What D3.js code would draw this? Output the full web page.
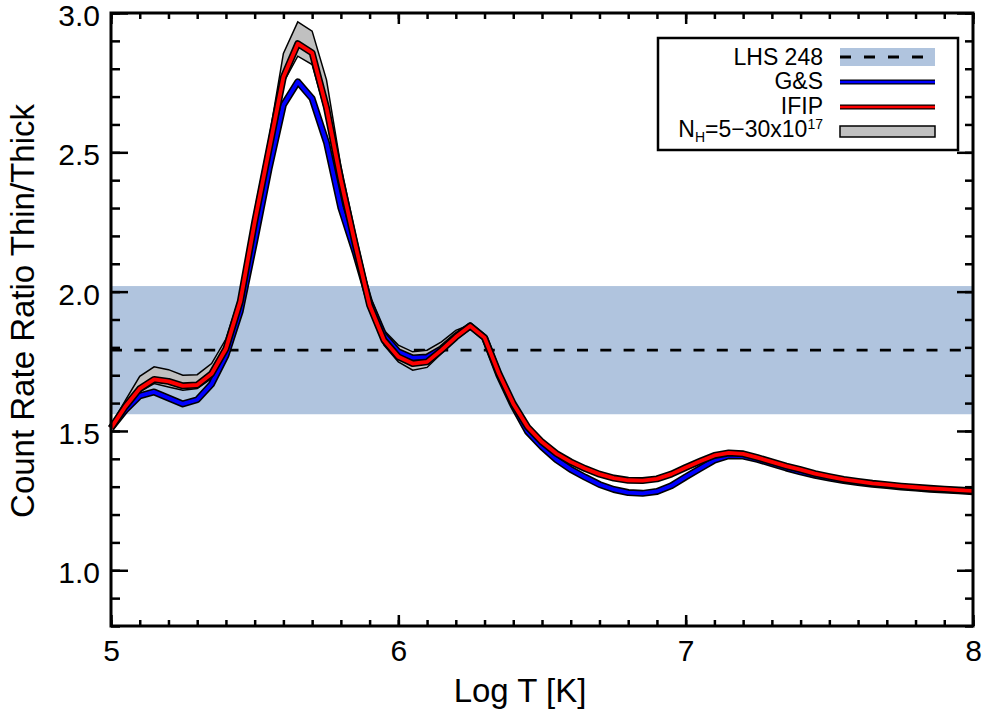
<!DOCTYPE html>
<html>
<head>
<meta charset="utf-8">
<script src="https://cdnjs.cloudflare.com/ajax/libs/d3/7.8.5/d3.min.js"></script>
<style>
body { margin: 0; background: #fff; }
text { font-family: "Liberation Sans", Arial, sans-serif; fill: #000; }
</style>
</head>
<body>
<div id="chart"></div>
<script>
// log T grid (0.05 dex)
var logT = [5.00, 5.05, 5.10, 5.15, 5.20, 5.25, 5.30, 5.35, 5.40, 5.45,
	5.50, 5.55, 5.60, 5.65, 5.70, 5.75, 5.80, 5.85, 5.90, 5.95,
	6.00, 6.05, 6.10, 6.15, 6.20, 6.25, 6.30, 6.35, 6.40, 6.45,
	6.50, 6.55, 6.60, 6.65, 6.70, 6.75, 6.80, 6.85, 6.90, 6.95,
	7.00, 7.05, 7.10, 7.15, 7.20, 7.25, 7.30, 7.35, 7.40, 7.45,
	7.50, 7.55, 7.60, 7.65, 7.70, 7.75, 7.80, 7.85, 7.90, 7.95, 8.00];

// G&S abundances
var gsRatio = [1.510, 1.575, 1.626, 1.640, 1.618, 1.597, 1.612, 1.668, 1.770, 1.930,
	2.180, 2.440, 2.670, 2.753, 2.693, 2.535, 2.300, 2.140, 1.963, 1.843,
	1.784, 1.762, 1.765, 1.795, 1.840, 1.877, 1.835, 1.700, 1.590, 1.497,
	1.443, 1.397, 1.362, 1.334, 1.308, 1.290, 1.279, 1.276, 1.283, 1.303,
	1.335, 1.365, 1.395, 1.411, 1.410, 1.398, 1.383, 1.367, 1.353, 1.341,
	1.331, 1.322, 1.315, 1.309, 1.304, 1.299, 1.295, 1.291, 1.288, 1.285, 1.282];

// IFIP abundances
var ifipRatio = [1.510, 1.588, 1.652, 1.685, 1.678, 1.662, 1.665, 1.705, 1.795, 1.965,
	2.250, 2.510, 2.770, 2.890, 2.857, 2.660, 2.400, 2.170, 1.951, 1.826,
	1.766, 1.742, 1.748, 1.790, 1.837, 1.877, 1.835, 1.706, 1.598, 1.514,
	1.460, 1.419, 1.389, 1.365, 1.345, 1.331, 1.323, 1.322, 1.328, 1.345,
	1.369, 1.391, 1.412, 1.421, 1.418, 1.404, 1.389, 1.374, 1.361, 1.347,
	1.336, 1.326, 1.319, 1.312, 1.307, 1.302, 1.298, 1.294, 1.291, 1.288, 1.285];

// N_H = 5-30 x 10^17 range
var nhLow = [1.505, 1.580, 1.640, 1.670, 1.658, 1.646, 1.652, 1.688, 1.790, 1.955,
	2.240, 2.500, 2.750, 2.845, 2.815, 2.630, 2.380, 2.150, 1.933, 1.808,
	1.748, 1.718, 1.728, 1.778, 1.830, 1.874, 1.832, 1.703, 1.595, 1.511,
	1.457, 1.416, 1.386, 1.362, 1.342, 1.328, 1.320, 1.319, 1.325, 1.342,
	1.366, 1.388, 1.409, 1.418, 1.415, 1.401, 1.386, 1.371, 1.358, 1.344,
	1.333, 1.323, 1.316, 1.309, 1.304, 1.299, 1.295, 1.291, 1.288, 1.285, 1.282];
var nhHigh = [1.520, 1.610, 1.696, 1.730, 1.720, 1.700, 1.702, 1.742, 1.830, 1.990,
	2.290, 2.550, 2.855, 2.968, 2.935, 2.760, 2.450, 2.210, 1.987, 1.861,
	1.808, 1.784, 1.790, 1.820, 1.861, 1.882, 1.838, 1.709, 1.601, 1.517,
	1.463, 1.422, 1.392, 1.368, 1.348, 1.334, 1.326, 1.325, 1.331, 1.348,
	1.372, 1.394, 1.415, 1.424, 1.421, 1.407, 1.392, 1.377, 1.364, 1.350,
	1.339, 1.329, 1.322, 1.315, 1.310, 1.305, 1.301, 1.297, 1.294, 1.291, 1.288];

// observed LHS 248 ratio and its range
var lhsRatio = [1.79];
var lhsRange = [1.56, 2.02];

var xTicks = [5, 6, 7, 8];
var yTicks = [1.0, 1.5, 2.0, 2.5, 3.0];
var legendNames = ["LHS 248", "G&S", "IFIP"];

var margin = {top: 13, right: 13, bottom: 90, left: 111},
	width = 986 - margin.left - margin.right,
	height = 716 - margin.top - margin.bottom;

var svg = d3.select("#chart")
	.append("svg")
	.attr("width", 986)
	.attr("height", 716)
	.append("g")
		.attr("transform", "translate(" + margin.left + "," + margin.top + ")");

var x = d3.scaleLinear()
	.domain([5, 8])
	.range([0, width]);

var y = d3.scaleLinear()
	.domain([0.8, 3.0])
	.range([height, 0]);

// LHS 248 band and value
svg.append("rect")
	.attr("x", 0)
	.attr("y", y(lhsRange[1]))
	.attr("width", width)
	.attr("height", y(lhsRange[0]) - y(lhsRange[1]))
	.attr("fill", "#b0c4de");

svg.append("line")
	.attr("x1", 0)
	.attr("x2", width)
	.attr("y1", y(lhsRatio[0]))
	.attr("y2", y(lhsRatio[0]))
	.attr("stroke", "#000")
	.attr("stroke-width", 2.8)
	.attr("stroke-dasharray", "11,12.3");

var rows = logT.map(function(t, i) {
	return {t: t, gs: gsRatio[i], ifip: ifipRatio[i], lo: nhLow[i], hi: nhHigh[i]};
});

// N_H range
var area = d3.area()
	.x(function(d) { return x(d.t); })
	.y0(function(d) { return y(d.lo); })
	.y1(function(d) { return y(d.hi); });

svg.append("path")
	.attr("d", area(rows))
	.attr("fill", "#c0c0c0");

["lo", "hi"].forEach(function(k) {
	var edge = d3.line()
		.x(function(d) { return x(d.t); })
		.y(function(d) { return y(d[k]); });
	svg.append("path")
		.attr("d", edge(rows))
		.attr("fill", "none")
		.attr("stroke", "#000")
		.attr("stroke-width", 1.5);
});

// model curves, black outline under coloured line
function drawCurve(key, color) {
	var line = d3.line()
		.x(function(d) { return x(d.t); })
		.y(function(d) { return y(d[key]); });
	svg.append("path")
		.attr("d", line(rows))
		.attr("fill", "none")
		.attr("stroke", "#000")
		.attr("stroke-width", 7)
		.attr("stroke-linejoin", "round");
	svg.append("path")
		.attr("d", line(rows))
		.attr("fill", "none")
		.attr("stroke", color)
		.attr("stroke-width", 3.8)
		.attr("stroke-linejoin", "round");
}
drawCurve("gs", "#0000ff");
drawCurve("ifip", "#ff0000");

// axes, ticks pointing inward on all four sides
function styleAxis(g) {
	g.select(".domain").remove();
	g.selectAll("line").attr("stroke", "#000").attr("stroke-width", 2.5);
	g.attr("font-family", null).attr("font-size", null);
	g.selectAll("text").style("font-size", "30px");
}

svg.append("g")
	.attr("transform", "translate(0," + height + ")")
	.call(d3.axisBottom(x).tickValues(x.ticks(30)).tickSize(-6).tickFormat(""))
	.call(styleAxis);
svg.append("g")
	.attr("transform", "translate(0," + height + ")")
	.call(d3.axisBottom(x).tickValues(xTicks).tickSize(-11).tickPadding(14).tickFormat(d3.format("d")))
	.call(styleAxis);
svg.append("g")
	.call(d3.axisTop(x).tickValues(x.ticks(30)).tickSize(-6).tickFormat(""))
	.call(styleAxis);
svg.append("g")
	.call(d3.axisTop(x).tickValues(xTicks).tickSize(-11).tickFormat(""))
	.call(styleAxis);

svg.append("g")
	.call(d3.axisLeft(y).tickValues(y.ticks(22)).tickSize(-9).tickFormat(""))
	.call(styleAxis);
svg.append("g")
	.call(d3.axisLeft(y).tickValues(yTicks).tickSize(-17).tickPadding(11).tickFormat(d3.format(".1f")))
	.call(styleAxis)
	.selectAll("text").attr("dy", "0.42em");
svg.append("g")
	.attr("transform", "translate(" + width + ",0)")
	.call(d3.axisRight(y).tickValues(y.ticks(22)).tickSize(-8).tickFormat(""))
	.call(styleAxis);
svg.append("g")
	.attr("transform", "translate(" + width + ",0)")
	.call(d3.axisRight(y).tickValues(yTicks).tickSize(-16).tickFormat(""))
	.call(styleAxis);

svg.append("rect")
	.attr("width", width)
	.attr("height", height)
	.attr("fill", "none")
	.attr("stroke", "#000")
	.attr("stroke-width", 3);

// axis labels
svg.append("text")
	.attr("x", 409)
	.attr("y", height + 76)
	.style("text-anchor", "middle")
	.style("font-size", "33px")
	.text("Log T [K]");

svg.append("text")
	.attr("transform", "rotate(-90)")
	.attr("x", -298)
	.attr("y", -77)
	.style("text-anchor", "middle")
	.style("font-size", "33px")
	.text("Count Rate Ratio Thin/Thick");

// legend
var legend = svg.append("g")
	.attr("transform", "translate(" + (658 - margin.left) + "," + (38 - margin.top) + ")");

legend.append("rect")
	.attr("width", 300)
	.attr("height", 112)
	.attr("fill", "#fff")
	.attr("stroke", "#000")
	.attr("stroke-width", 2.5);

var tx = 165, sx1 = 182, sx2 = 277;
var rowY = [27, 51, 76, 99];

legendNames.forEach(function(name, i) {
	legend.append("text")
		.attr("x", tx)
		.attr("y", rowY[i])
		.style("text-anchor", "end")
		.style("font-size", "23px")
		.text(name);
});

legend.append("rect")
	.attr("x", sx1)
	.attr("y", 10)
	.attr("width", sx2 - sx1)
	.attr("height", 18)
	.attr("fill", "#b0c4de");
legend.append("line")
	.attr("x1", sx1).attr("x2", sx2)
	.attr("y1", 19).attr("y2", 19)
	.attr("stroke", "#000")
	.attr("stroke-width", 2.8)
	.attr("stroke-dasharray", "11,13");

[["#0000ff", 44], ["#ff0000", 69]].forEach(function(c) {
	legend.append("line")
		.attr("x1", sx1).attr("x2", sx2)
		.attr("y1", c[1]).attr("y2", c[1])
		.attr("stroke", "#000")
		.attr("stroke-width", 5);
	legend.append("line")
		.attr("x1", sx1).attr("x2", sx2)
		.attr("y1", c[1]).attr("y2", c[1])
		.attr("stroke", c[0])
		.attr("stroke-width", 2.5);
});

legend.append("rect")
	.attr("x", sx1)
	.attr("y", 88)
	.attr("width", sx2 - sx1)
	.attr("height", 11)
	.attr("fill", "#c0c0c0")
	.attr("stroke", "#000")
	.attr("stroke-width", 1.5);

var nh = legend.append("text")
	.attr("x", tx)
	.attr("y", rowY[3])
	.style("text-anchor", "end")
	.style("font-size", "23px");
nh.append("tspan").text("N");
nh.append("tspan").attr("dy", 5).style("font-size", "14px").text("H");
nh.append("tspan").attr("dy", -5).text("=5\u221230x10");
nh.append("tspan").attr("dy", -8).style("font-size", "14px").text("17");

</script>
</body>
</html>
